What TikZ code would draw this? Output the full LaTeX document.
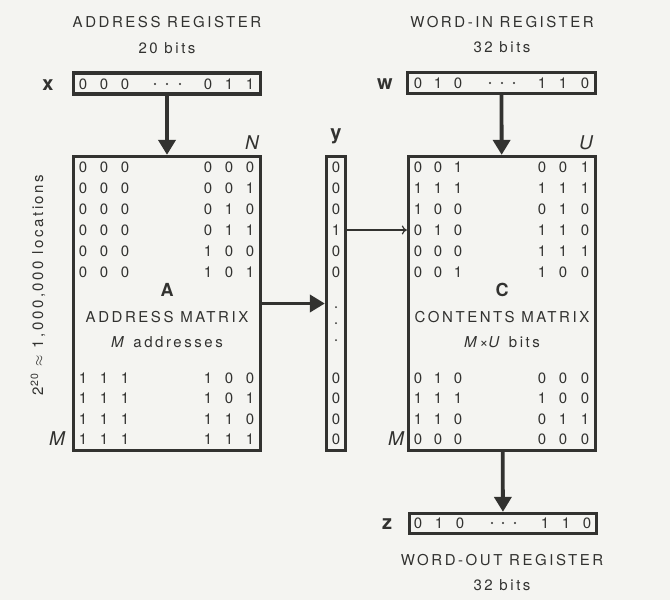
\documentclass[tikz,border=0pt]{standalone}
\usepackage{fontspec}
\setmainfont{TeX Gyre Heros}
\newfontfamily\wide[LetterSpace=17]{TeX Gyre Heros}
\usetikzlibrary{arrows.meta}

\definecolor{ink}{RGB}{50,50,48}
\definecolor{paper}{RGB}{244,244,241}

\tikzset{
  reg/.style={draw=ink, line width=3.3pt, inner sep=0pt},
  bigarrow/.style={draw=ink, line width=3.8pt, -{Triangle[width=17pt,length=15pt]}},
  bit/.style={text=ink, font=\fontsize{15}{15}\selectfont, inner sep=0pt},
  dot/.style={circle, fill=ink, inner sep=0pt, minimum size=2.2pt},
  title/.style={text=ink, font=\wide\fontsize{15}{17}\selectfont},
  vec/.style={text=ink, font=\bfseries\fontsize{20}{20}\selectfont},
  dim/.style={text=ink, font=\itshape\fontsize{19}{19}\selectfont},
}

\begin{document}
\begin{tikzpicture}[x=1pt,y=-1pt]
  \fill[paper] (0,0) rectangle (670,600);
  \useasboundingbox (0,0) rectangle (670,600);

  % registers and matrices
  \node[reg, minimum width=187pt, minimum height=21pt] (xreg) at (167,83.5) {};
  \node[reg, minimum width=188pt, minimum height=21pt] (wreg) at (501.5,83) {};
  \node[reg, minimum width=187pt, minimum height=20pt] (zreg) at (503,523.5) {};
  \node[reg, minimum width=187pt, minimum height=294pt] (A) at (167,303.5) {};
  \node[reg, minimum width=187pt, minimum height=294pt] (C) at (502,303.5) {};
  \node[reg, minimum width=19pt, minimum height=294pt] (ycol) at (336,303.5) {};

  % labels
  \node[title] (xtitle) at (167,22) {ADDRESS REGISTER};
  \node[title] (xbits) at (167,48) {20 bits};
  \node[title] (wtitle) at (502,22) {WORD-IN REGISTER};
  \node[title] (wbits) at (502,47) {32 bits};
  \node[title] (ztitle) at (502,560) {WORD-OUT REGISTER};
  \node[title] (zbits) at (502,585) {32 bits};

  \node[vec] (xname) at (48,85) {x};
  \node[vec] (yname) at (336,136) {y};
  \node[vec] (wname) at (385,84) {w};
  \node[vec] (zname) at (387,524) {z};

  \node[dim] (N) at (252,143) {N};
  \node[dim] (U) at (586,143) {U};
  \node[dim] (MA) at (57,439) {M};
  \node[dim] (MC) at (396,439) {M};

  \node[vec, font=\bfseries\fontsize{18}{18}\selectfont] (Aname) at (167,290) {A};
  \node[title] (Atitle) at (167,317) {ADDRESS MATRIX};
  \node[title] (Asize) at (167,342) {\textit{M} addresses};
  \node[vec, font=\bfseries\fontsize{18}{18}\selectfont] (Cname) at (502,290) {C};
  \node[title] (Ctitle) at (502,317) {CONTENTS MATRIX};
  \node[title] (Csize) at (502,342) {\textit{M}\texttimes\textit{U} bits};

  \node[title, rotate=90] (loc) at (38,285) {2\textsuperscript{20} $\approx$ 1,000,000 locations};

  % register bits
  \foreach \cx/\v [count=\j] in {83/0,104/0,125/0,208/0,229/1,250/1}
    \node[bit] (x\j) at (\cx,84) {\v};
  \foreach \cx/\v [count=\j] in {418/0,438/1,458/0,542/1,563/1,585/0}
    \node[bit] (w\j) at (\cx,83) {\v};
  \foreach \cx/\v [count=\j] in {418/0,439/1,460/0,545/1,566/1,587/0}
    \node[bit] (z\j) at (\cx,523) {\v};
  \foreach \cx [count=\j] in {155,167,180}
    \node[dot] (xd\j) at (\cx,84) {};
  \foreach \cx [count=\j] in {490,502,514}
    \node[dot] (wd\j) at (\cx,83) {};
  \foreach \cx [count=\j] in {492,503,515}
    \node[dot] (zd\j) at (\cx,523) {};

  % address matrix A
  \foreach \a/\b/\c/\d/\e/\f [count=\i] in
    {0/0/0/0/0/0,0/0/0/0/0/1,0/0/0/0/1/0,0/0/0/0/1/1,0/0/0/1/0/0,0/0/0/1/0/1}
    \foreach \cx/\v [count=\j] in {83/\a,104/\b,125/\c,208/\d,229/\e,250/\f}
      \node[bit] (a\i\j) at (\cx,{146+21*\i}) {\v};
  \foreach \a/\b/\c/\d/\e/\f [count=\i] in
    {1/1/1/1/0/0,1/1/1/1/0/1,1/1/1/1/1/0,1/1/1/1/1/1}
    \foreach \cx/\v [count=\j] in {83/\a,104/\b,125/\c,208/\d,229/\e,250/\f}
      \node[bit] (ab\i\j) at (\cx,{357.5+20.5*\i}) {\v};

  % contents matrix C
  \foreach \a/\b/\c/\d/\e/\f [count=\i] in
    {0/0/1/0/0/1,1/1/1/1/1/1,1/0/0/0/1/0,0/1/0/1/1/0,0/0/0/1/1/1,0/0/1/1/0/0}
    \foreach \cx/\v [count=\j] in {418/\a,438/\b,458/\c,542/\d,563/\e,585/\f}
      \node[bit] (c\i\j) at (\cx,{146+21*\i}) {\v};
  \foreach \a/\b/\c/\d/\e/\f [count=\i] in
    {0/1/0/0/0/0,1/1/1/1/0/0,1/1/0/0/1/1,0/0/0/0/0/0}
    \foreach \cx/\v [count=\j] in {418/\a,438/\b,458/\c,542/\d,563/\e,585/\f}
      \node[bit] (cb\i\j) at (\cx,{357.5+20.5*\i}) {\v};

  % y column
  \foreach \v [count=\i] in {0,0,0,1,0,0}
    \node[bit] (y\i) at (336,{146+21*\i}) {\v};
  \foreach \v [count=\i] in {0,0,0,0}
    \node[bit] (yb\i) at (336,{357.5+20.5*\i}) {\v};
  \foreach \cy [count=\i] in {307,323,340}
    \node[dot, minimum size=2pt] (yd\i) at (336,\cy) {};

  % connectors
  \draw[bigarrow] (xreg) -- (A);
  \draw[bigarrow] (wreg) -- (C);
  \draw[bigarrow] (C) -- (zreg);
  \draw[bigarrow] (A) -- (ycol);
  \draw[ink, line width=1.2pt, -{To[length=5pt,width=9pt]}] (y4 -| ycol.east) -- (y4 -| C.west);
\end{tikzpicture}
\end{document}
